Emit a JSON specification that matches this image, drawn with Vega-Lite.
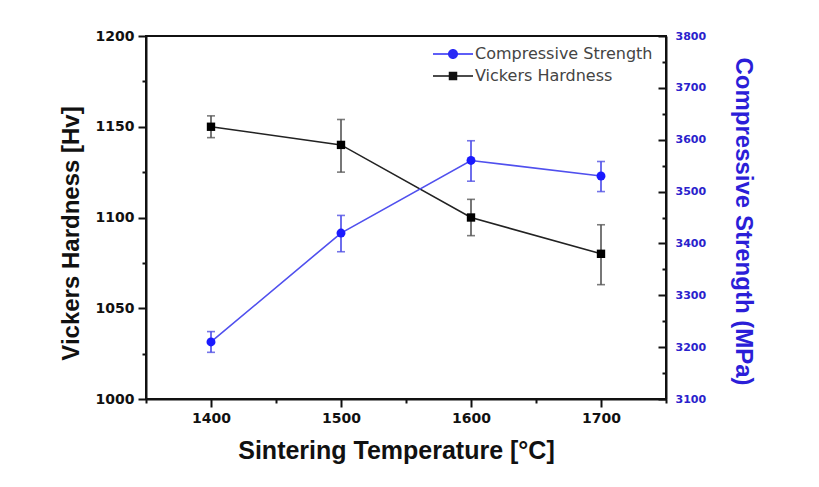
{
  "$schema": "https://vega.github.io/schema/vega-lite/v6.json",
  "width": 520,
  "height": 363,
  "autosize": {"type": "none"},
  "padding": {"left": 146, "top": 36, "right": 153, "bottom": 88},
  "background": "white",
  "config": {
    "view": {"stroke": "#111", "strokeWidth": 2},
    "axis": {"grid": false, "domainColor": "#111", "domainWidth": 2, "tickColor": "#111", "tickWidth": 2},
    "legend": {
      "orient": "none", "legendX": 299, "legendY": 10,
      "labelFont": "DejaVu Sans", "labelFontSize": 16, "labelColor": "#444", "labelLimit": 400,
      "symbolSize": 100, "labelOffset": 14, "rowPadding": 6, "symbolOpacity": 1, "symbolStrokeWidth": 0
    }
  },
  "data": {
    "values": [
      {"T": 1400, "hv": 1150, "hv_lo": 1144, "hv_hi": 1156, "cs": 3210, "cs_lo": 3190, "cs_hi": 3230},
      {"T": 1500, "hv": 1140, "hv_lo": 1125, "hv_hi": 1154, "cs": 3420, "cs_lo": 3384, "cs_hi": 3454},
      {"T": 1600, "hv": 1100, "hv_lo": 1090, "hv_hi": 1110, "cs": 3560, "cs_lo": 3520, "cs_hi": 3598},
      {"T": 1700, "hv": 1080, "hv_lo": 1063, "hv_hi": 1096, "cs": 3530, "cs_lo": 3500, "cs_hi": 3558}
    ]
  },
  "encoding": {
    "x": {
      "field": "T", "type": "quantitative",
      "scale": {"domain": [1350, 1750], "nice": false, "zero": false},
      "axis": {
        "title": "Sintering Temperature [°C]",
        "values": [1350, 1400, 1450, 1500, 1550, 1600, 1650, 1700, 1750],
        "format": "d",
        "labelExpr": "datum.value % 100 === 0 ? datum.label : ''",
        "tickSize": {"expr": "datum.value % 100 === 0 ? 8 : 4"},
        "labelFont": "DejaVu Sans", "labelFontWeight": "bold", "labelFontSize": 14, "labelColor": "#111",
        "labelPadding": 4,
        "titleFont": "Liberation Sans", "titleFontWeight": "bold", "titleFontSize": 25, "titleColor": "#111",
        "titleX": 250, "titleY": 59, "titleBaseline": "alphabetic", "titleAnchor": "middle"
      }
    }
  },
  "layer": [
    {
      "encoding": {
        "y": {
          "field": "hv", "type": "quantitative",
          "scale": {"domain": [1000, 1200], "nice": false, "zero": false},
          "axis": {
            "title": "Vickers Hardness [Hv]",
            "values": [1000, 1025, 1050, 1075, 1100, 1125, 1150, 1175, 1200],
            "format": "d",
            "labelExpr": "datum.value % 50 === 0 ? datum.label : ''",
            "tickSize": {"expr": "datum.value % 50 === 0 ? 8 : 4"},
            "labelFont": "DejaVu Sans", "labelFontWeight": "bold", "labelFontSize": 14, "labelColor": "#111",
            "labelPadding": 4,
            "titleFont": "Liberation Sans", "titleFontWeight": "bold", "titleFontSize": 24, "titleColor": "#111",
            "titleX": -68, "titleY": 197, "titleBaseline": "alphabetic", "titleAngle": -90, "titleAnchor": "middle"
          }
        }
      },
      "layer": [
        {"mark": {"type": "line", "color": "#222", "strokeWidth": 1.6}},
        {
          "mark": {"type": "errorbar", "color": "#444", "thickness": 1.6, "ticks": {"size": 8, "color": "#444", "strokeWidth": 1.6}, "rule": {"color": "#555", "strokeWidth": 1.6}},
          "encoding": {
            "y": {
              "field": "hv_lo", "type": "quantitative",
              "scale": {"domain": [1000, 1200], "nice": false, "zero": false},
              "axis": {
                "title": "Vickers Hardness [Hv]",
                "values": [1000, 1025, 1050, 1075, 1100, 1125, 1150, 1175, 1200],
                "format": "d",
                "labelExpr": "datum.value % 50 === 0 ? datum.label : ''",
                "tickSize": {"expr": "datum.value % 50 === 0 ? 8 : 4"},
                "labelFont": "DejaVu Sans", "labelFontWeight": "bold", "labelFontSize": 14, "labelColor": "#111",
                "labelPadding": 4,
                "titleFont": "Liberation Sans", "titleFontWeight": "bold", "titleFontSize": 24, "titleColor": "#111",
                "titleX": -68, "titleY": 197, "titleBaseline": "alphabetic", "titleAngle": -90, "titleAnchor": "middle"
              }
            },
            "y2": {"field": "hv_hi"}
          }
        },
        {"mark": {"type": "point", "shape": "square", "filled": true, "size": 70, "opacity": 1, "color": "#000"}},
        {
          "mark": {"type": "point", "filled": true, "opacity": 0},
          "encoding": {
            "color": {
              "datum": "Vickers Hardness", "type": "nominal",
              "scale": {"domain": ["Compressive Strength", "Vickers Hardness"], "range": ["#2a2af5", "#111111"]},
              "legend": {"title": null}
            },
            "shape": {
              "datum": "Vickers Hardness", "type": "nominal",
              "scale": {
                "domain": ["Compressive Strength", "Vickers Hardness"],
                "range": [
                  "M-4,-0.13H-0.9V0.13H-4Z M0.9,-0.13H4V0.13H0.9Z M-1,0A1,1,0,1,1,1,0A1,1,0,1,1,-1,0Z",
                  "M-4,-0.13H-0.8V0.13H-4Z M0.8,-0.13H4V0.13H0.8Z M-0.85,-0.85H0.85V0.85H-0.85Z"
                ]
              },
              "legend": {"title": null}
            }
          }
        }
      ]
    },
    {
      "encoding": {
        "y": {
          "field": "cs", "type": "quantitative",
          "scale": {"domain": [3100, 3800], "nice": false, "zero": false},
          "axis": {
            "orient": "right",
            "title": "Compressive Strength (MPa)",
            "values": [3100, 3150, 3200, 3250, 3300, 3350, 3400, 3450, 3500, 3550, 3600, 3650, 3700, 3750, 3800],
            "labelExpr": "datum.value % 100 === 0 ? datum.label : ''",
            "format": "d",
            "tickSize": {"expr": "datum.value % 100 === 0 ? -8 : -4"},
            "labelFont": "DejaVu Sans", "labelFontWeight": "bold", "labelFontSize": 11, "labelColor": "#2a22cc",
            "labelPadding": 17,
            "titleFont": "Liberation Sans", "titleFontWeight": "bold", "titleFontSize": 24, "titleColor": "#2b1ed8",
            "titleX": 69, "titleY": 185, "titleBaseline": "alphabetic", "titleAngle": 90, "titleAnchor": "middle"
          }
        }
      },
      "layer": [
        {"mark": {"type": "line", "color": "#5050ee", "strokeWidth": 1.6}},
        {
          "mark": {"type": "errorbar", "color": "#3a3ae0", "thickness": 1.6, "ticks": {"size": 8, "color": "#3a3ae0", "strokeWidth": 1.6}, "rule": {"color": "#4a4ae8", "strokeWidth": 1.6}},
          "encoding": {
            "y": {
              "field": "cs_lo", "type": "quantitative",
              "scale": {"domain": [3100, 3800], "nice": false, "zero": false},
              "axis": {
                "orient": "right",
                "title": "Compressive Strength (MPa)",
                "values": [3100, 3150, 3200, 3250, 3300, 3350, 3400, 3450, 3500, 3550, 3600, 3650, 3700, 3750, 3800],
                "labelExpr": "datum.value % 100 === 0 ? datum.label : ''",
                "format": "d",
                "tickSize": {"expr": "datum.value % 100 === 0 ? -8 : -4"},
                "labelFont": "DejaVu Sans", "labelFontWeight": "bold", "labelFontSize": 11, "labelColor": "#2a22cc",
                "labelPadding": 17,
                "titleFont": "Liberation Sans", "titleFontWeight": "bold", "titleFontSize": 24, "titleColor": "#2b1ed8",
                "titleX": 69, "titleY": 185, "titleBaseline": "alphabetic", "titleAngle": 90, "titleAnchor": "middle"
              }
            },
            "y2": {"field": "cs_hi"}
          }
        },
        {"mark": {"type": "point", "shape": "circle", "filled": true, "size": 80, "opacity": 1, "color": "#1a1aff"}},
        {
          "mark": {"type": "point", "filled": true, "opacity": 0},
          "encoding": {
            "color": {"datum": "Compressive Strength", "type": "nominal", "legend": {"title": null}},
            "shape": {"datum": "Compressive Strength", "type": "nominal", "legend": {"title": null}}
          }
        }
      ]
    }
  ],
  "resolve": {"scale": {"y": "independent"}, "axis": {"y": "independent"}}
}
